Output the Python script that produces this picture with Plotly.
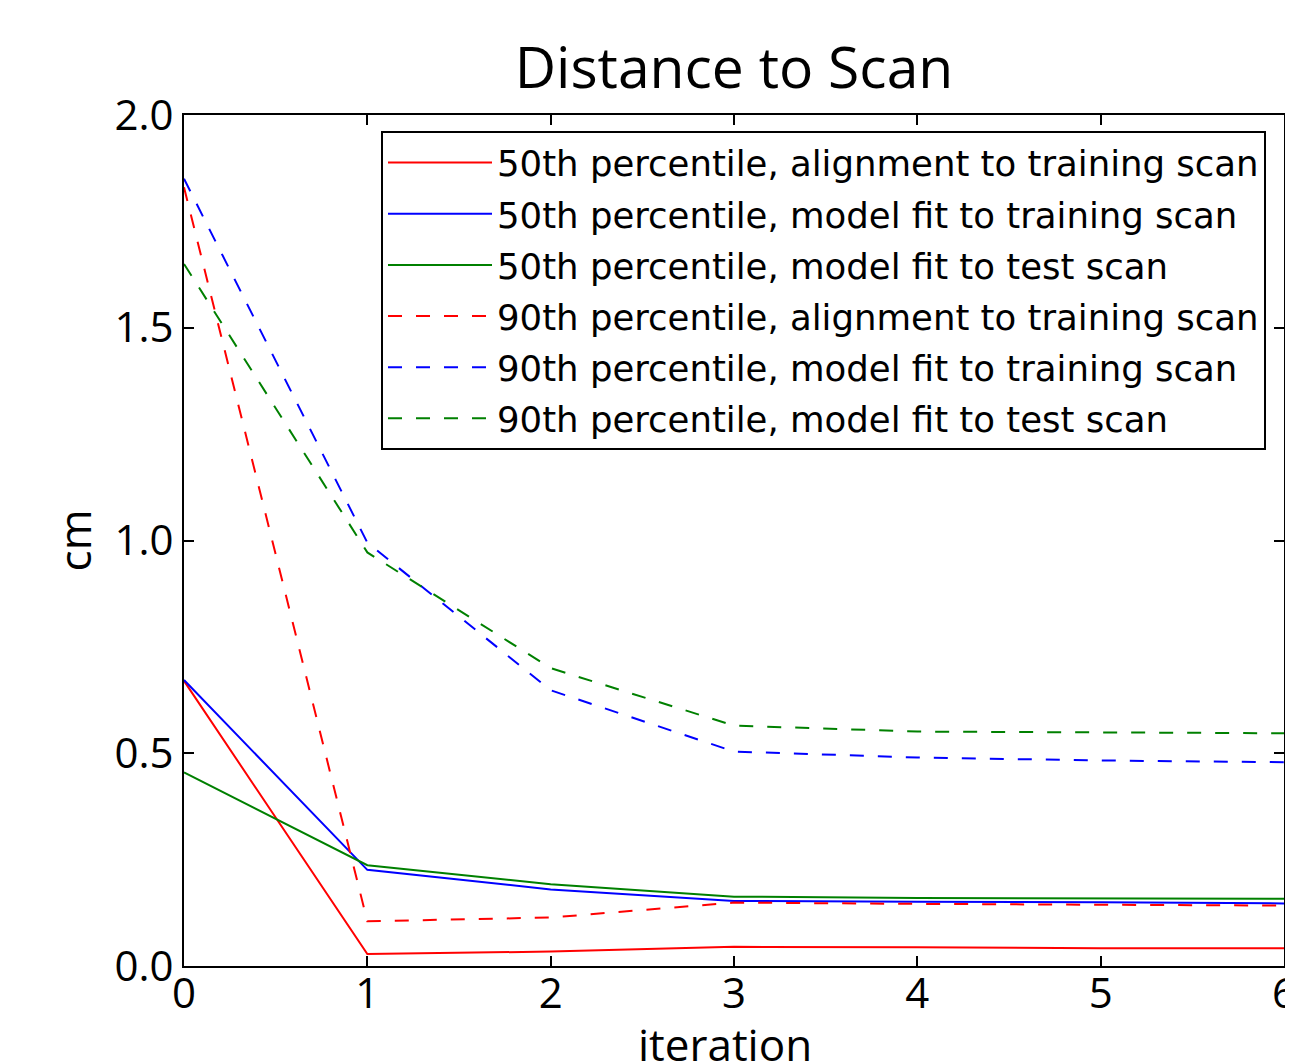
import plotly.graph_objects as go

iterations = [0, 1, 2, 3, 4, 5, 6]

p50_align_train = [0.670, 0.028, 0.034, 0.045, 0.044, 0.042, 0.042]
p50_fit_train = [0.672, 0.226, 0.180, 0.153, 0.151, 0.150, 0.147]
p50_fit_test = [0.455, 0.237, 0.192, 0.163, 0.160, 0.159, 0.158]
p90_align_train = [1.830, 0.105, 0.114, 0.149, 0.146, 0.144, 0.142]
p90_fit_train = [1.850, 0.995, 0.648, 0.504, 0.490, 0.483, 0.479]
p90_fit_test = [1.650, 0.972, 0.700, 0.565, 0.551, 0.549, 0.547]

series = [
    ("50th percentile, alignment to training scan", p50_align_train, "#ff0000", "solid"),
    ("50th percentile, model fit to training scan", p50_fit_train, "#0000ff", "solid"),
    ("50th percentile, model fit to test scan", p50_fit_test, "#008000", "solid"),
    ("90th percentile, alignment to training scan", p90_align_train, "#ff0000", "14px,14px"),
    ("90th percentile, model fit to training scan", p90_fit_train, "#0000ff", "14px,14px"),
    ("90th percentile, model fit to test scan", p90_fit_test, "#008000", "14px,14px"),
]

x_ticks = [0, 1, 2, 3, 4, 5, 6]
y_ticks = [0.0, 0.5, 1.0, 1.5, 2.0]
y_tick_labels = ["0.0", "0.5", "1.0", "1.5", "2.0"]

FONT = "Open Sans, Noto Sans, sans-serif"
LEGEND_FONT = "DejaVu Sans, sans-serif"

fig = go.Figure()
for i, (name, vals, color, dash) in enumerate(series):
    fig.add_trace(go.Scatter(
        x=iterations, y=vals, mode="lines", name=name,
        line=dict(color=color, width=2, dash=dash),
        legendgroup=f"g{i}",
    ))

axis_common = dict(
    showline=True, linecolor="black", linewidth=2, mirror="ticks",
    ticks="inside", ticklen=10, tickwidth=1.5, tickcolor="black",
    showgrid=False, zeroline=False, automargin=False,
    tickfont=dict(family=FONT, size=42, color="black"),
)

# page body has an 8px offset; figure sized so the plot area lands where the reference has it
fig.update_layout(
    width=1285, height=1056,
    margin=dict(l=176, r=9, t=107, b=98),
    paper_bgcolor="white", plot_bgcolor="white",
    font=dict(family=FONT, color="black"),
    title=dict(text="Distance to Scan", x=0.5, xref="paper", y=1 - 60 / 1056,
               yref="container", xanchor="center", yanchor="middle",
               font=dict(family=FONT, size=57, color="black"),
               automargin=False),
    xaxis=dict(range=[0, 6], tickvals=x_ticks, ticktext=[str(t) for t in x_ticks],
               ticklabelstandoff=-10, ticklabeloverflow="allow",
               **axis_common),
    yaxis=dict(range=[0, 2.0], tickvals=y_ticks, ticktext=y_tick_labels,
               title=dict(text="cm", font=dict(family=FONT, size=44), standoff=9),
               **axis_common),
    legend=dict(
        x=(1266 - 184) / 1100, y=(966 - 131) / 851, xanchor="right", yanchor="top",
        bgcolor="white", bordercolor="black", borderwidth=2,
        font=dict(family=LEGEND_FONT, size=35.5, color="black"),
        traceorder="grouped", tracegroupgap=2, itemwidth=104,
    ),
    showlegend=True,
)

# x-axis title
fig.add_annotation(text="iteration", xref="paper", yref="paper", x=0.5, y=0,
                   xshift=-9, yshift=-78, xanchor="center", yanchor="middle",
                   showarrow=False,
                   font=dict(family=FONT, size=44, color="black"))

fig.write_html("out.html")
